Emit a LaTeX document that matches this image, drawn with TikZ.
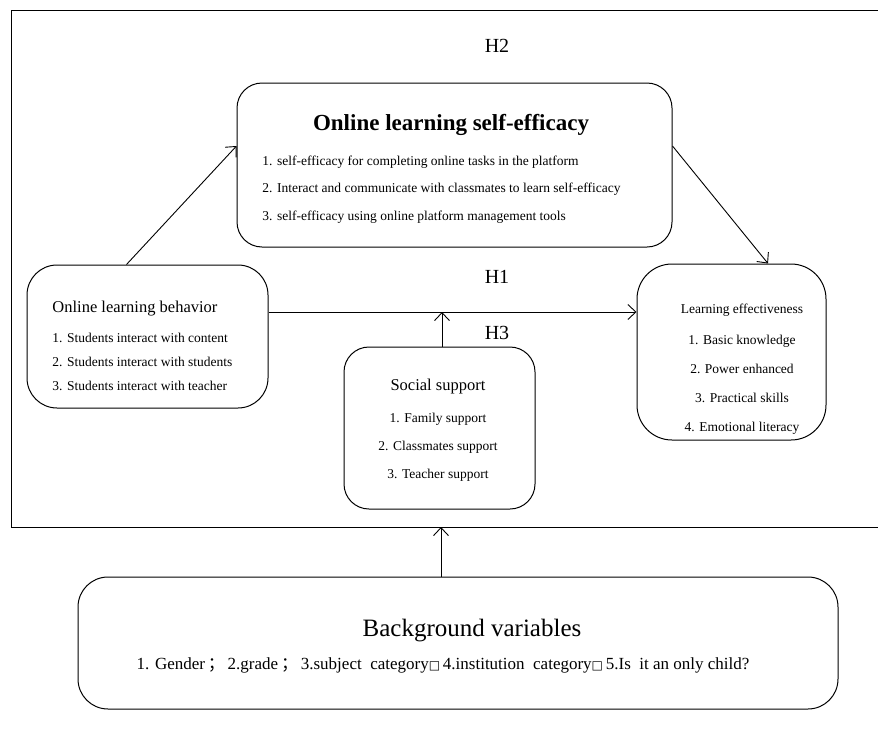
\documentclass[tikz,border=0pt]{standalone}
\usepackage{fontspec}
\setmainfont{Liberation Serif}
\newfontfamily\cjkfont{Noto Sans CJK SC}
\newfontfamily\boxfont{DejaVu Sans}
\usetikzlibrary{arrows.meta,positioning,calc}
\newcommand{\fs}[2]{\fontsize{#1}{#2}\selectfont}
\tikzset{
  varbox/.style={draw, rounded corners=#1, line width=1pt, inner sep=0pt},
  hlabel/.style={font=\fs{20}{24}},
}

\begin{document}
\begin{tikzpicture}[x=1pt,y=-1pt,>={Straight Barb[length=8pt,width=15pt]},line width=0.9pt]
			\useasboundingbox (0,0) rectangle (878,731);
			% Draw the frame
			\draw (878,10) -- (11,10) -- (11,527) -- (878,527);
			\coordinate (fb) at (441,527);

			% Draw the boxes
			\node[varbox=25pt,minimum width=435pt,minimum height=164pt] (eff) at (454.5,165) {};
			\node[varbox=30pt,minimum width=241pt,minimum height=143pt] (beh) at (147.5,336.5) {};
			\node[varbox=35pt,minimum width=189pt,minimum height=176pt] (res) at (731.5,352) {};
			\node[varbox=25pt,minimum width=191pt,minimum height=162pt] (soc) at (439.5,428) {};
			\node[varbox=30pt,minimum width=760pt,minimum height=132pt] (bg) at (458,643) {};

			% Texts of the boxes (base = last line)
			\node[font=\fs{23}{26}\bfseries] (effT) at (451,125) {Online learning self-efficacy};
			\node[anchor=base west,align=left,inner sep=0pt,font=\fs{13.5}{27.5}] (effL) at (262,220)
				{1. self-efficacy for completing online tasks in the platform\\
				 2. Interact and communicate with classmates to learn self-efficacy\\
				 3. self-efficacy using online platform management tools};
			\node[anchor=base west,inner sep=0pt,font=\fs{16.5}{20}] (behT) at (52,312) {Online learning behavior};
			\node[anchor=base west,align=left,inner sep=0pt,font=\fs{13.5}{24}] (behL) at (52,390)
				{1. Students interact with content\\
				 2. Students interact with students\\
				 3. Students interact with teacher};
			\node[font=\fs{13.5}{16}] (resT) at (742,310) {Learning effectiveness};
			\node[anchor=base,align=center,inner sep=0pt,font=\fs{13.5}{28.7}] (resL) at (742,431)
				{1. Basic knowledge\\ 2. Power enhanced\\ 3. Practical skills\\ 4. Emotional literacy};
			\node[font=\fs{16.5}{20}] (socT) at (438,387) {Social support};
			\node[anchor=base,align=center,inner sep=0pt,font=\fs{13.5}{28}] (socL) at (438,478)
				{1. Family support\\ 2. Classmates support\\ 3. Teacher support};
			\node[font=\fs{25}{30}] (bgT) at (472,631) {Background variables};
			\node[font=\fs{17}{20}] (bgL) at (443,665)
				{1. Gender\,{\cjkfont ；}\,2.grade\,{\cjkfont ；}\,3.subject\enspace category{\boxfont\fs{12}{14}□}\,4.institution\enspace category{\boxfont\fs{12}{14}□}\,5.Is\enspace it an only child?};

			% Hypotheses
			\node[hlabel] (h2) at (497,46) {H2};
			\node[hlabel] (h1) at (497,277) {H1};
			\node[hlabel] (h3) at (497,333) {H3};

			% Draw the paths
			\draw[->] ([xshift=-21pt]beh.north) -- ([yshift=19pt]eff.west);
			\draw[->] ([yshift=19pt]eff.east) -- ([xshift=36.5pt]res.north);
			\draw[->] ([yshift=24.5pt]beh.east) coordinate (h1s) -- (h1s -| res.west);
			\draw[->] ([xshift=2.5pt]soc.north) -- ([xshift=2.5pt]soc.north |- h1s);
			\draw[->] ([xshift=-17pt]bg.north) -- ([xshift=-17pt]bg.north |- fb);
		\end{tikzpicture}
\end{document}
